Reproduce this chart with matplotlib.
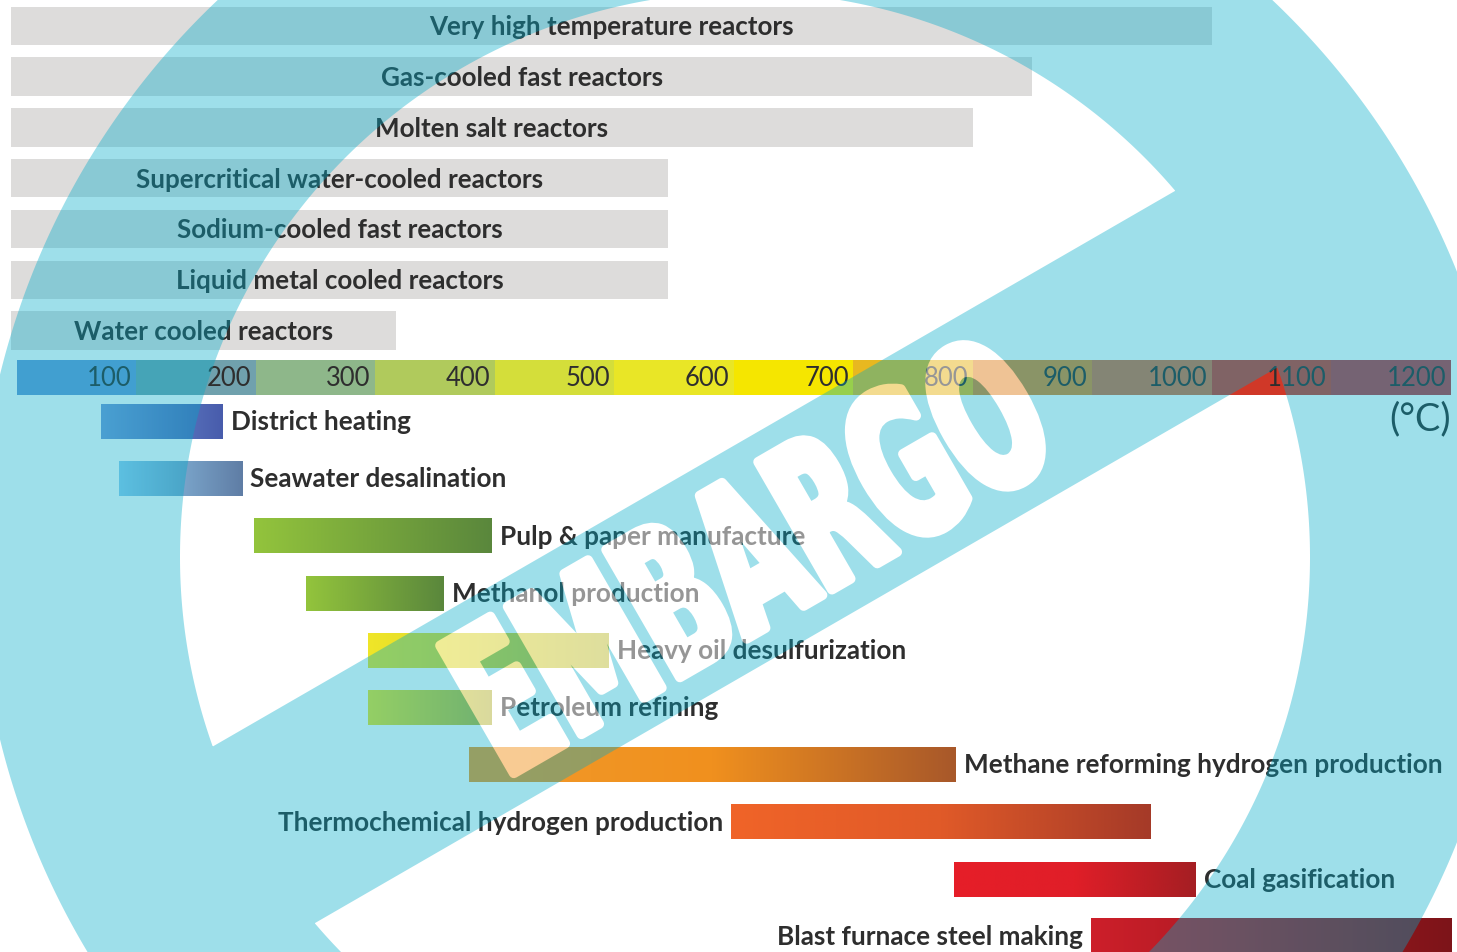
import numpy as np
import matplotlib
matplotlib.use("Agg")
import matplotlib.pyplot as plt
from matplotlib.patches import Rectangle
from matplotlib.path import Path
from matplotlib.textpath import TextPath
from matplotlib.font_manager import FontProperties
from matplotlib.transforms import Affine2D, IdentityTransform
from matplotlib.colors import LinearSegmentedColormap
from matplotlib.patheffects import AbstractPathEffect
from matplotlib.backends.backend_agg import RendererAgg

# ---------------- data ----------------
REACTORS = [
    "Very high temperature reactors",
    "Gas-cooled fast reactors",
    "Molten salt reactors",
    "Supercritical water-cooled reactors",
    "Sodium-cooled fast reactors",
    "Liquid metal cooled reactors",
    "Water cooled reactors",
]
REACTOR_MAX_C = [1000, 850, 800, 545, 545, 545, 317]

SCALE_TICKS = [100, 200, 300, 400, 500, 600, 700, 800, 900, 1000, 1100, 1200]
SCALE_COLORS = ["#6A99D5", "#70A1AD", "#8EB78A", "#B0CA5C", "#D4DE3A", "#E9E626",
                "#F5E600", "#E8B820", "#E0872B", "#D66E42", "#D03828", "#BE383F"]
UNIT_LABEL = "(°C)"

APPLICATIONS = [
    "District heating",
    "Seawater desalination",
    "Pulp & paper manufacture",
    "Methanol production",
    "Heavy oil desulfurization",
    "Petroleum refining",
    "Methane reforming hydrogen production",
    "Thermochemical hydrogen production",
    "Coal gasification",
    "Blast furnace steel making",
]
APP_MIN_C = [70, 85, 198, 242, 294, 294, 378, 598, 784, 899]
APP_MAX_C = [172, 188, 397, 357, 495, 397, 785, 949, 986, 1201]
APP_LABEL_SIDE = ["right", "right", "right", "right", "right", "right", "right",
                  "left", "right", "left"]
APP_GRADIENTS = [
    ["#789AD8", "#485CAC"],
    ["#96CDF0", "#5F7DA5"],
    ["#93C43C", "#5A873C"],
    ["#93C43C", "#5A873C"],
    ["#F0E628", "#BEBE3C"],
    ["#F0E628", "#B4B43C"],
    ["#F29A2A", "#F0901E", "#A8582A"],
    ["#F06428", "#E05A28", "#A53A28"],
    ["#E61E28", "#E01E28", "#A51E23"],
    ["#CD1F2A", "#7D1419"],
]

WATERMARK_TEXT = "EMBARGO"

# ---------------- layout / style ----------------
W, H = 1457, 953
PX_PER_C = 1.1947
X_ORIGIN_PX = 17
GRAY = "#DDDCDB"
TEXT_DARK = "#2E2E2E"
FONT = ["Lato", "DejaVu Sans"]

REACTOR_START_C = -5
REACTOR_TOP0, REACTOR_STEP, REACTOR_H = 7.5, 50.8, 38.5
SCALE_TOP, SCALE_H = 361, 35
APP_TOP0, APP_STEP, APP_H = 405, 57.2, 35

# watermark geometry (pixels, y down)
RING_CENTER = (745.0, 557.0)
R_IN, R_OUT = 565.0, 767.0
BAND_ANGLE = 30.0
BAND_HALF_W, BAND_HALF_L = 102.0, 650.0
TEXT_ORIGIN_PX = (512.0, 780.0)
TEXT_LEN_PX, TEXT_CAP_PX = 640.0, 160.0
STROKE_PX = 10.0
TINT = (0 / 255, 171 / 255, 201 / 255)
TINT_ALPHA = 0.38
LETTER_ALPHA = 0.5


def fit_size(text, target_px, fp):
    w = TextPath((0, 0), text, size=1, prop=fp).get_extents().width
    return target_px / w * 72.0 / 100.0


fp_r = FontProperties(family=FONT, weight="bold")
fp_r.set_size(fit_size(REACTORS[0], 363, fp_r))
fp_a = FontProperties(family=FONT, weight="bold")
fp_a.set_size(fit_size(APPLICATIONS[6], 473.5, fp_a))
fp_n = FontProperties(family=FONT, weight="normal")
fp_n.set_size(fit_size("1000", 56.7, fp_n))
fp_u = FontProperties(family=FONT, weight="normal")
fp_u.set_size(fit_size(UNIT_LABEL, 58, fp_u))

fig = plt.figure(figsize=(W / 100, H / 100), dpi=100)
ax = fig.add_axes([0, 0, 1, 1])
ax.set_axis_off()

# reactor bars
for i, (name, vmax) in enumerate(zip(REACTORS, REACTOR_MAX_C)):
    top = REACTOR_TOP0 + i * REACTOR_STEP
    ax.add_patch(Rectangle((REACTOR_START_C, top), vmax - REACTOR_START_C, REACTOR_H,
                           facecolor=GRAY, edgecolor="none", zorder=1))
    ax.text((REACTOR_START_C + vmax) / 2, top + REACTOR_H / 2 + 8.4, name,
            ha="center", va="baseline", fontproperties=fp_r, color=TEXT_DARK, zorder=3)

# temperature scale
edges = [0] + SCALE_TICKS
for lo, hi, col in zip(edges[:-1], edges[1:], SCALE_COLORS):
    ax.add_patch(Rectangle((lo, SCALE_TOP), hi - lo, SCALE_H, facecolor=col,
                           edgecolor="none", zorder=1))
    ax.text(hi - 3.8, SCALE_TOP + SCALE_H / 2 + 8, str(hi), ha="right", va="baseline",
            fontproperties=fp_n, color=TEXT_DARK, zorder=3)
ax.text(SCALE_TICKS[-1], 430, UNIT_LABEL, ha="right", va="baseline",
        fontproperties=fp_u, color=TEXT_DARK, zorder=3)

# application bars
for i, (name, lo, hi, side, grad) in enumerate(zip(APPLICATIONS, APP_MIN_C, APP_MAX_C,
                                                   APP_LABEL_SIDE, APP_GRADIENTS)):
    top = APP_TOP0 + i * APP_STEP
    cmap = LinearSegmentedColormap.from_list("g%d" % i, grad)
    arr = cmap(np.linspace(0, 1, 256))[None, :, :3]
    ax.imshow(arr, extent=(lo, hi, top + APP_H, top), aspect="auto",
              interpolation="bilinear", zorder=2)
    y_base = top + APP_H / 2 + 7.8
    if side == "right":
        ax.text(hi + 7.3, y_base, name, ha="left", va="baseline",
                fontproperties=fp_a, color=TEXT_DARK, zorder=3)
    else:
        ax.text(lo - 7.1, y_base, name, ha="right", va="baseline",
                fontproperties=fp_a, color=TEXT_DARK, zorder=3)

ax.set_xlim(-X_ORIGIN_PX / PX_PER_C, (W - X_ORIGIN_PX) / PX_PER_C)
ax.set_ylim(H, 0)


# ---------------- watermark ----------------
def signed_area(p):
    x, y = p[:, 0], p[:, 1]
    return 0.5 * np.sum(x * np.roll(y, -1) - np.roll(x, -1) * y)


def poly_path(p, sign):
    if np.sign(signed_area(p)) != sign:
        p = p[::-1]
    p = np.vstack([p, p[:1]])
    codes = [Path.MOVETO] + [Path.LINETO] * (len(p) - 2) + [Path.CLOSEPOLY]
    return Path(p, codes)


class StampEffect(AbstractPathEffect):
    """Draws the stamp: tinted ring + band with the (bold) letters cut out and paled."""

    def draw_path(self, renderer, gc, tpath, affine, rgbFace=None):
        wpx, hpx = int(renderer.width), int(renderer.height)
        dpi = renderer.dpi
        k = wpx / W

        def to_disp(p):
            p = np.asarray(p, float)
            return np.column_stack([p[:, 0] * k, hpx - p[:, 1] * k])

        a = np.radians(BAND_ANGLE)
        u_px = np.array([np.cos(a), -np.sin(a)])
        up_px = np.array([-np.sin(a), -np.cos(a)])
        origin = np.array(TEXT_ORIGIN_PX) + STROKE_PX / 2 * (u_px + up_px)
        ext = tpath.get_extents()
        sx = (TEXT_LEN_PX - STROKE_PX) * k / ext.width
        sy = (TEXT_CAP_PX - STROKE_PX) * k / ext.y1
        ox, oy = to_disp([origin])[0]
        tr = (Affine2D().translate(-ext.x0, 0).scale(sx, sy)
              .rotate_deg(BAND_ANGLE).translate(ox, oy))
        glyph_path = tr.transform_path(tpath)

        c = to_disp([RING_CENTER])[0]
        t = np.linspace(0, 2 * np.pi, 1440, endpoint=False)
        outer = np.column_stack([c[0] + R_OUT * k * np.cos(t), c[1] + R_OUT * k * np.sin(t)])
        inner = np.column_stack([c[0] + R_IN * k * np.cos(t), c[1] + R_IN * k * np.sin(t)])
        u = np.array([np.cos(a), np.sin(a)])
        nv = np.array([-np.sin(a), np.cos(a)])
        L, Wd = BAND_HALF_L * k, BAND_HALF_W * k
        band = np.array([c - u * L - nv * Wd, c + u * L - nv * Wd,
                         c + u * L + nv * Wd, c - u * L + nv * Wd])
        shape_path = Path.make_compound_path(poly_path(outer, 1), poly_path(inner, -1),
                                             poly_path(band, 1))

        def mask(path, lw_px):
            r = RendererAgg(wpx, hpx, dpi)
            g = r.new_gc()
            g.set_foreground((1, 1, 1))
            g.set_linewidth(lw_px * 72.0 / dpi)
            g.set_joinstyle("round")
            r.draw_path(g, path, IdentityTransform(), rgbFace=(1, 1, 1))
            g.restore()
            return np.asarray(r.buffer_rgba())[:, :, 3].astype(float) / 255.0

        ml = mask(glyph_path, STROKE_PX * k)
        mt = mask(shape_path, 0)
        a_l = LETTER_ALPHA * ml
        a_t = TINT_ALPHA * mt * (1 - ml)
        A = a_l + a_t
        rgb = (a_l[..., None] * np.ones(3) + a_t[..., None] * np.array(TINT)) \
            / np.maximum(A, 1e-6)[..., None]
        img = np.dstack([rgb, A])
        img = (np.clip(img, 0, 1) * 255 + 0.5).astype(np.uint8)
        img = np.ascontiguousarray(img[::-1])
        gc0 = renderer.new_gc()
        gc0.copy_properties(gc)
        gc0.set_alpha(None)
        renderer.draw_image(gc0, 0, 0, img)
        gc0.restore()


ax2 = fig.add_axes([0, 0, 1, 1], zorder=10)
ax2.set_xlim(0, W)
ax2.set_ylim(H, 0)
ax2.set_axis_off()
ax2.text(RING_CENTER[0], RING_CENTER[1], WATERMARK_TEXT, rotation=BAND_ANGLE,
         ha="center", va="center",
         fontproperties=FontProperties(family="DejaVu Sans", weight="bold", size=100),
         color="white", clip_on=False, path_effects=[StampEffect()])

fig.savefig("out.png", dpi=100)
